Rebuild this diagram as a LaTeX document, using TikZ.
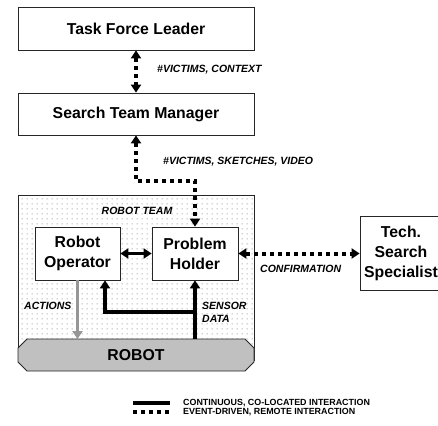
\documentclass[tikz,border=0pt]{standalone}
\usepackage{fontspec}
\setmainfont{Liberation Sans}
\usetikzlibrary{arrows.meta,patterns}
\pgfdeclarepatternformonly{teamdots}{\pgfpointorigin}{\pgfpoint{5pt}{5pt}}{\pgfpoint{5pt}{5pt}}{\pgfpathcircle{\pgfpoint{2.5pt}{2.5pt}}{0.7pt}\pgfusepath{fill}}
\definecolor{robotgray}{RGB}{192,192,192}
\definecolor{actgray}{RGB}{150,150,150}
\begin{document}
\begin{tikzpicture}[x=1pt,y=-1pt,
  box/.style={draw=black!85, line width=0.8pt, fill=white, font=\fontsize{15.8}{20}\selectfont\bfseries, align=center, inner sep=0pt},
  lbl/.style={font=\fontsize{10.5}{13}\selectfont\bfseries\itshape, inner sep=0pt, anchor=west},
  leg/.style={font=\fontsize{8.9}{11}\selectfont\bfseries, inner sep=0pt, anchor=west},
  evt/.style={line width=4pt, dash pattern=on 4pt off 4pt, {Triangle[length=8pt,width=10pt]}-{Triangle[length=8pt,width=10pt]}},
  cont/.style={line width=3.2pt, -{Triangle[length=8pt,width=10pt]}},
]
\useasboundingbox (0,0) rectangle (438,425);

% top boxes
\node[box, minimum width=236pt, minimum height=43pt] (tfl) at (136,28.5) {Task Force Leader};
\node[box, minimum width=236pt, minimum height=42pt] (stm) at (136,114) {Search Team Manager};

% robot team area
\node[draw=black!85, line width=0.8pt, preaction={fill=white}, pattern=teamdots, pattern color=black!45,
      minimum width=236pt, minimum height=165pt, inner sep=0pt] (team) at (136,277.5) {};
\node[lbl, anchor=center] (teamlbl) at (137,211) {ROBOT TEAM};

% robot
\fill[robotgray, draw=black!85, line width=0.8pt]
  (27,339) -- (245,339) -- (254,348) -- (254,362) -- (245,371) -- (27,371) -- (18,362) -- (18,348) -- cycle;
\node[font=\fontsize{15.8}{20}\selectfont\bfseries, inner sep=0pt] (robot) at (136,355) {ROBOT};
\coordinate (rtl) at (77.5,339);
\coordinate (rtr) at (195,339);

% inner boxes
\node[box, minimum width=85pt, minimum height=53pt] (ro) at (77.5,253.5) {Robot\\Operator};
\node[box, minimum width=86pt, minimum height=53pt] (ph) at (195,253.5) {Problem\\Holder};
\node[box, minimum width=82pt, minimum height=74pt] (tss) at (401,253.5) {Tech.\\Search\\Specialist};

% event-driven connectors
\draw[evt] (tfl.south) -- (stm.north);
\coordinate (elbow) at (136,181);
\draw[evt] (stm.south) -- (elbow) -| (ph.north);
\draw[evt] (ph.east) -- (tss.west);

% continuous connectors
\draw[line width=3.2pt, {Triangle[length=8pt,width=10pt]}-{Triangle[length=8pt,width=10pt]}] (ro.east) -- (ph.west);
\draw[cont, actgray] (ro.south) -- (rtl);
\draw[cont] (rtr) -- (ph.south);
\coordinate (branch) at (195,312);
\coordinate (rofoot) at (105,312);
\draw[cont] (branch) -- (rofoot) -- (rofoot |- ro.south);

% labels
\node[lbl] (l1) at (157,70) {\#VICTIMS, CONTEXT};
\node[lbl] (l2) at (163,162) {\#VICTIMS, SKETCHES, VIDEO};
\node[lbl] (l4) at (24,306) {ACTIONS};
\node[lbl, align=left] (l5) at (202,312.5) {SENSOR\\DATA};
\node[lbl] (l6) at (260,269) {CONFIRMATION};

% legend
\coordinate (s1) at (133,403);
\coordinate (s2) at (170,403);
\coordinate (d1) at (133,412);
\coordinate (d2) at (170,412);
\draw[line width=3.6pt] (s1) -- (s2);
\draw[line width=3.6pt, dash pattern=on 4pt off 4pt] (d1) -- (d2);
\node[leg] (leg1) at (183,403) {CONTINUOUS, CO-LOCATED INTERACTION};
\node[leg] (leg2) at (183,412) {EVENT-DRIVEN, REMOTE INTERACTION};
\end{tikzpicture}
\end{document}
